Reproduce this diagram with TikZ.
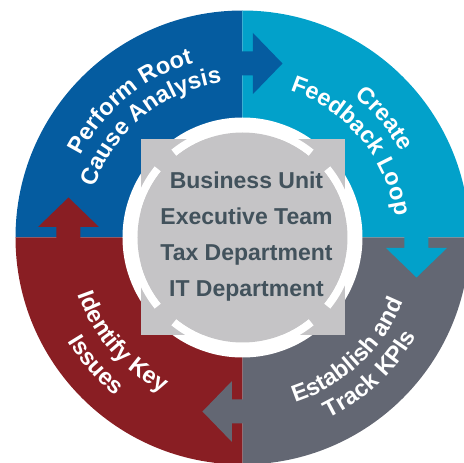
\documentclass[tikz,border=0pt]{standalone}
\usepackage{fontspec}
\setmainfont{Liberation Sans}
\usetikzlibrary{positioning,decorations.text}

\definecolor{rootblue}{RGB}{5,92,160}
\definecolor{loopcyan}{RGB}{2,161,202}
\definecolor{kpigray}{RGB}{99,103,115}
\definecolor{issuered}{RGB}{137,30,35}
\definecolor{hubgray}{RGB}{197,196,198}
\definecolor{hubtext}{RGB}{66,82,92}

\tikzstyle{unit} = [inner sep=0pt, text height=16.5pt, text depth=0pt, text=hubtext,
    font=\fontsize{23}{23}\selectfont\bfseries]
\tikzstyle{curved} = [decorate, decoration={text along path, text align=center, text color=white}]
\newcommand{\stagefont}{\fontsize{23.5}{23.5}\selectfont\bfseries}
\newcommand{\flowarrow}[3]{\fill[#1, shift={#2}, rotate=#3] (-1,-12) -- (10.5,-12) -- (10.5,-30.5)
    -- (40,0) -- (10.5,30.5) -- (10.5,12) -- (-1,12) -- cycle;}

\begin{document}
\begin{tikzpicture}[x=1pt, y=1pt]
      \useasboundingbox (-242.5,-225.5) rectangle (221.5,237.5);
      % Quadrants
      \fill [rootblue] (0,0) -- (90:227) arc [start angle=90, end angle=180, radius=227] -- cycle;
      \fill [loopcyan] (0,0) -- (0:227) arc [start angle=0, end angle=90, radius=227] -- cycle;
      \fill [kpigray] (0,0) -- (270:227) arc [start angle=270, end angle=360, radius=227] -- cycle;
      \fill [issuered] (0,0) -- (180:227) arc [start angle=180, end angle=270, radius=227] -- cycle;
      % Arrows between stages
      \flowarrow{rootblue}{(0,174)}{0}
      \flowarrow{loopcyan}{(174,0)}{-90}
      \flowarrow{kpigray}{(0,-174)}{180}
      \flowarrow{issuered}{(-174,0)}{90}
      % Hub
      \fill [white] (0,0) circle [radius=120];
      \fill [hubgray] (-101.5,-97.5) rectangle (102.5,98.5);
      \fill [white] (51:105) arc [start angle=51, end angle=129, radius=105] -- (129:113)
          arc [start angle=129, end angle=51, radius=113] -- cycle;
      \fill [white] (141:105) arc [start angle=141, end angle=219, radius=105] -- (219:113)
          arc [start angle=219, end angle=141, radius=113] -- cycle;
      \fill [white] (231:105) arc [start angle=231, end angle=309, radius=105] -- (309:113)
          arc [start angle=309, end angle=231, radius=113] -- cycle;
      \fill [white] (-39:105) arc [start angle=-39, end angle=39, radius=105] -- (39:113)
          arc [start angle=39, end angle=-39, radius=113] -- cycle;
      \fill [hubgray] (0,0) circle [radius=105];
      \node [unit] (bu) at (4,57.5) {Business Unit};
      \node [unit, below=19.2pt of bu] (exec) {Executive Team};
      \node [unit, below=19.2pt of exec] (tax) {Tax Department};
      \node [unit, below=19.2pt of tax] (it) {IT Department};
      % Stage labels
      \path [curved, decoration={text={|\stagefont|Perform Root}}] (174.5:181)
          arc [start angle=174.5, end angle=84.5, radius=181];
      \path [curved, decoration={text={|\stagefont|Cause Analysis}}] (174.5:156)
          arc [start angle=174.5, end angle=84.5, radius=156];
      \path [curved, decoration={text={|\stagefont|Create}}] (85:180)
          arc [start angle=85, end angle=-5, radius=180];
      \path [curved, decoration={text={|\stagefont|Feedback Loop}}] (85:154)
          arc [start angle=85, end angle=-5, radius=154];
      \path [curved, decoration={text={|\stagefont|Establish and}}] (-92:173)
          arc [start angle=-92, end angle=-2, radius=173];
      \path [curved, decoration={text={|\stagefont|Track KPIs}}] (-92:200)
          arc [start angle=-92, end angle=-2, radius=200];
      \path [curved, decoration={text={|\stagefont|Identify Key}}] (176:174)
          arc [start angle=176, end angle=266, radius=174];
      \path [curved, decoration={text={|\stagefont|Issues}}] (176:203)
          arc [start angle=176, end angle=266, radius=203];
\end{tikzpicture}
\end{document}
